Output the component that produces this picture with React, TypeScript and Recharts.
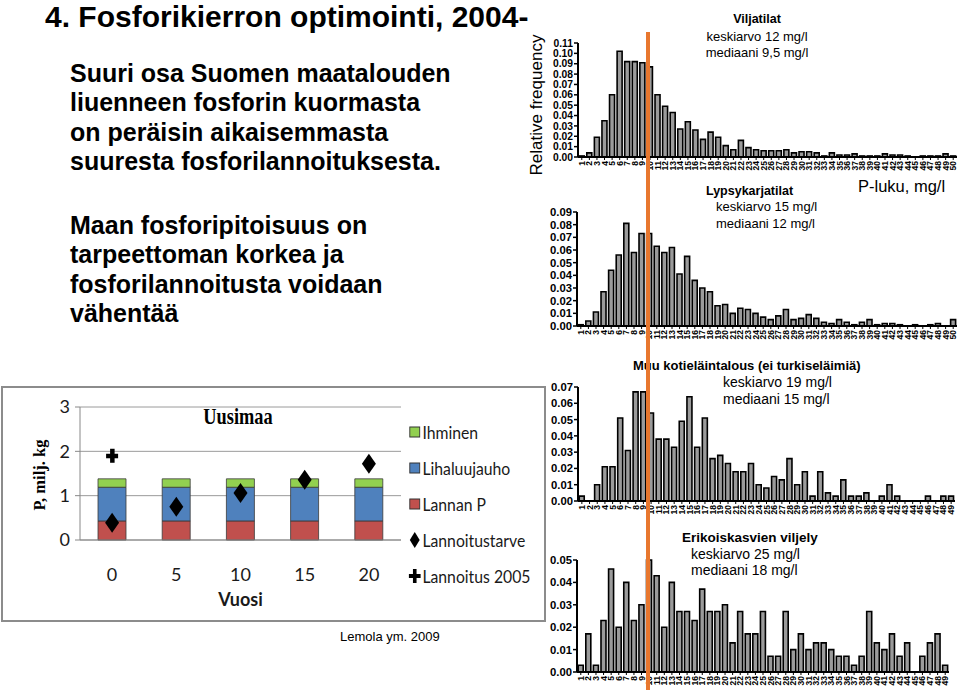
import React from "react";
import {
  BarChart,
  Bar,
  ComposedChart,
  Scatter,
  XAxis,
  YAxis,
  CartesianGrid,
  Label,
} from "recharts";

const SANS = '"Liberation Sans", Arial, sans-serif';
const NARROW = 'Lato, "Liberation Sans", sans-serif';
const SERIF = '"Liberation Serif", "Times New Roman", serif';

// ---- histogram data (P-luku bins, relative frequency) ----
const bins = [
  1, 2, 3, 4, 5, 6, 7, 8, 9, 10, 11, 12, 13, 14, 15, 16, 17, 18, 19, 20, 21, 22, 23, 24, 25,
  26, 27, 28, 29, 30, 31, 32, 33, 34, 35, 36, 37, 38, 39, 40, 41, 42, 43, 44, 45, 46, 47, 48, 49, 50,
];

const viljatilat = [
  0.001, 0.004, 0.019, 0.035, 0.06, 0.102, 0.092, 0.092, 0.091, 0.087,
  0.06, 0.049, 0.043, 0.027, 0.034, 0.026, 0.017, 0.024, 0.019, 0.011,
  0.007, 0.016, 0.009, 0.007, 0.006, 0.006, 0.006, 0.007, 0.004, 0.005,
  0.005, 0.004, 0.001, 0.004, 0.002, 0.002, 0.003, 0.001, 0.001, 0.001,
  0.003, 0.002, 0.002, 0.001, 0.0, 0.001, 0.001, 0.001, 0.003, 0.001,
];

const lypsykarjatilat = [
  0.001, 0.004, 0.011, 0.027, 0.044, 0.056, 0.081, 0.058, 0.073, 0.073,
  0.063, 0.058, 0.062, 0.041, 0.055, 0.036, 0.03, 0.027, 0.016, 0.017,
  0.01, 0.014, 0.013, 0.01, 0.007, 0.005, 0.008, 0.013, 0.005, 0.006,
  0.009, 0.006, 0.003, 0.002, 0.005, 0.003, 0.001, 0.003, 0.005, 0.001,
  0.002, 0.002, 0.001, 0.0, 0.001, 0.0, 0.001, 0.002, 0.0, 0.005,
];

const muuKotielain = [
  0.003, 0.0, 0.01, 0.021, 0.021, 0.051, 0.031, 0.067, 0.067, 0.054,
  0.038, 0.038, 0.033, 0.049, 0.064, 0.033, 0.051, 0.026, 0.028, 0.023,
  0.018, 0.018, 0.023, 0.01, 0.008, 0.015, 0.013, 0.026, 0.01, 0.018,
  0.003, 0.018, 0.005, 0.003, 0.013, 0.003, 0.003, 0.005, 0.0, 0.003,
  0.01, 0.003, 0.0, 0.0, 0.0, 0.003, 0.0, 0.003, 0.003,
];

const erikoiskasvit = [
  0.003, 0.017, 0.003, 0.023, 0.046, 0.02, 0.04, 0.023, 0.03, 0.05,
  0.043, 0.02, 0.04, 0.027, 0.027, 0.023, 0.037, 0.027, 0.027, 0.03,
  0.013, 0.027, 0.017, 0.017, 0.027, 0.007, 0.007, 0.027, 0.01, 0.017,
  0.01, 0.013, 0.013, 0.01, 0.007, 0.007, 0.003, 0.007, 0.027, 0.013,
  0.01, 0.017, 0.007, 0.013, 0.0, 0.007, 0.013, 0.017, 0.003,
];

const ticks011 = [0, 0.01, 0.02, 0.03, 0.04, 0.05, 0.06, 0.07, 0.08, 0.09, 0.1, 0.11];
const ticks009 = [0, 0.01, 0.02, 0.03, 0.04, 0.05, 0.06, 0.07, 0.08, 0.09];
const ticks007 = [0, 0.01, 0.02, 0.03, 0.04, 0.05, 0.06, 0.07];
const ticks005 = [0, 0.01, 0.02, 0.03, 0.04, 0.05];

// ---- Uusimaa scenario chart ----
const vuodet = ["0", "5", "10", "15", "20"];
const lannanP = [0.43, 0.43, 0.43, 0.43, 0.43];
const lihaluujauho = [0.76, 0.76, 0.76, 0.76, 0.76];
const ihminen = [0.19, 0.19, 0.19, 0.19, 0.19];
const lannoitustarve = [0.39, 0.75, 1.06, 1.36, 1.72];
const lannoitus2005 = [1.9, null, null, null, null];
const uusimaaTicks = [0, 1, 2, 3];

const uusimaaData = vuodet.map((v, i) => ({
  vuosi: v,
  lannanP: lannanP[i],
  lihaluujauho: lihaluujauho[i],
  ihminen: ihminen[i],
  tarve: lannoitustarve[i],
  lannoitus: lannoitus2005[i],
}));

const PANEL_X = 549;

function BinTick(props: any) {
  const { x, y, payload } = props;
  return (
    <text
      x={x}
      y={y}
      transform={`rotate(-90 ${x} ${y})`}
      textAnchor="end"
      dominantBaseline="central"
      fontSize={8.5}
      fontWeight={700}
      fontFamily={SANS}
      fill="#000"
    >
      {payload.value}
    </text>
  );
}

interface HistProps {
  values: number[];
  ticks: number[];
  axisX: number;
  plotTop: number;
  plotRight: number;
  plotBottom: number;
  fontSize: number;
}

function Histogram({ values, ticks, axisX, plotTop, plotRight, plotBottom, fontSize }: HistProps) {
  const yw = 32;
  const mt = 5;
  const left = axisX - yw;
  const width = plotRight - left + 3;
  const height = plotBottom - plotTop + mt + 26;
  const data = values.map((v, i) => ({ bin: bins[i], value: v }));
  return (
    <div style={{ position: "absolute", left: left - PANEL_X, top: plotTop - mt }}>
      <BarChart
        width={width}
        height={height}
        data={data}
        margin={{ top: mt, right: 3, left: 0, bottom: 0 }}
        barCategoryGap="16%"
      >
        <XAxis
          dataKey="bin"
          interval={0}
          height={26}
          tickSize={3}
          tickMargin={1}
          axisLine={{ stroke: "#000", strokeWidth: 2 }}
          tickLine={{ stroke: "#000", strokeWidth: 1 }}
          tick={<BinTick />}
        />
        <YAxis
          width={yw}
          domain={[0, ticks[ticks.length - 1]]}
          ticks={ticks}
          interval={0}
          tickFormatter={(v: number) => v.toFixed(2)}
          tick={{ fontSize, fontWeight: 700, fill: "#000", fontFamily: SANS }}
          tickSize={4}
          tickMargin={1}
          axisLine={{ stroke: "#000", strokeWidth: 2 }}
          tickLine={{ stroke: "#000", strokeWidth: 1.5 }}
        />
        <Bar dataKey="value" fill="#9b9b9b" stroke="#000" strokeWidth={1.6} isAnimationActive={false} />
      </BarChart>
    </div>
  );
}

function Diamond(props: any) {
  const { cx, cy, payload } = props;
  if (payload == null || payload.tarve == null) return <g />;
  return <polygon points={`${cx},${cy - 10} ${cx + 7},${cy} ${cx},${cy + 10} ${cx - 7},${cy}`} fill="#000" />;
}

function Plus(props: any) {
  const { cx, cy, payload } = props;
  if (payload == null || payload.lannoitus == null || cy == null || isNaN(cy)) return <g />;
  return (
    <g fill="#000">
      <rect x={cx - 6} y={cy - 2} width={12} height={4.5} />
      <rect x={cx - 2} y={cy - 7} width={4.5} height={14} />
    </g>
  );
}

const legendItems = [
  { label: "Ihminen", kind: "box", color: "#92D050" },
  { label: "Lihaluujauho", kind: "box", color: "#4F81BD" },
  { label: "Lannan P", kind: "box", color: "#C0504D" },
  { label: "Lannoitustarve", kind: "diamond", color: "#000" },
  { label: "Lannoitus 2005", kind: "plus", color: "#000" },
];

function UusimaaLegend() {
  return (
    <div
      style={{
        position: "absolute",
        left: 405,
        top: 26,
        fontFamily: NARROW,
        fontSize: 17.5,
        color: "#1a1a1a",
        whiteSpace: "nowrap",
        transform: "scaleX(0.9)",
        transformOrigin: "left top",
      }}
    >
      {legendItems.map((it) => (
        <div key={it.label} style={{ display: "flex", alignItems: "center", height: 36 }}>
          <svg width={15} height={20} style={{ marginRight: 1, flexShrink: 0 }}>
            {it.kind === "box" && <rect x={2} y={5} width={11} height={10} fill={it.color} stroke="#333" strokeWidth={1} />}
            {it.kind === "diamond" && <polygon points="7.5,2 13,10 7.5,18 2,10" fill="#000" />}
            {it.kind === "plus" && (
              <g fill="#000">
                <rect x={1} y={8} width={13} height={4} />
                <rect x={5.5} y={3} width={4} height={14} />
              </g>
            )}
          </svg>
          <span>{it.label}</span>
        </div>
      ))}
    </div>
  );
}

function textAt(
  text: string,
  left: number,
  cy: number,
  size: number,
  bold = false,
  extra: React.CSSProperties = {}
) {
  return (
    <div
      style={{
        position: "absolute",
        left,
        top: cy - size * 0.6,
        lineHeight: `${size * 1.2}px`,
        fontSize: size,
        fontWeight: bold ? 700 : 400,
        fontFamily: SANS,
        whiteSpace: "nowrap",
        color: "#000",
        ...extra,
      }}
    >
      {text}
    </div>
  );
}

export default function App() {
  return (
    <div
      style={{
        position: "absolute",
        left: 0,
        top: 0,
        width: 960,
        height: 690,
        background: "#fff",
        overflow: "hidden",
        fontFamily: SANS,
      }}
    >
      {/* slide title and text */}
      <div style={{ position: "absolute", left: 45, top: 1, fontSize: 30, lineHeight: "31px", fontWeight: 700, whiteSpace: "nowrap" }}>
        4. Fosforikierron optimointi, 2004-
      </div>
      <div style={{ position: "absolute", left: 70, top: 59, fontSize: 25, lineHeight: "29.4px", fontWeight: 700 }}>
        Suuri osa Suomen maatalouden
        <br />
        liuenneen fosforin kuormasta
        <br />
        on peräisin aikaisemmasta
        <br />
        suuresta fosforilannoituksesta.
      </div>
      <div style={{ position: "absolute", left: 70, top: 211, fontSize: 25, lineHeight: "29.4px", fontWeight: 700 }}>
        Maan fosforipitoisuus on
        <br />
        tarpeettoman korkea ja
        <br />
        fosforilannoitusta voidaan
        <br />
        vähentää
      </div>

      {/* right panel: histograms */}
      <div
        style={{
          position: "absolute",
          left: 537 - 80,
          top: 105 - 11,
          width: 160,
          textAlign: "center",
          fontSize: 17,
          lineHeight: "22px",
          transform: "rotate(-90deg)",
          whiteSpace: "nowrap",
        }}
      >
        Relative frequency
      </div>
      <div style={{ position: "absolute", left: PANEL_X, top: 0, width: 960 - PANEL_X, height: 690 }}>
        <Histogram values={viljatilat} ticks={ticks011} axisX={578} plotTop={43} plotRight={957} plotBottom={157} fontSize={10.3} />
        <Histogram values={lypsykarjatilat} ticks={ticks009} axisX={577} plotTop={212} plotRight={957} plotBottom={326} fontSize={11.3} />
        <Histogram values={muuKotielain} ticks={ticks007} axisX={578} plotTop={387} plotRight={955} plotBottom={501} fontSize={11.3} />
        <Histogram values={erikoiskasvit} ticks={ticks005} axisX={577} plotTop={560} plotRight={949} plotBottom={672} fontSize={11.3} />
      </div>

      {textAt("Viljatilat", 757, 19, 12.5, true, { transform: "translateX(-50%)" })}
      {textAt("keskiarvo 12 mg/l", 757, 37, 13, false, { transform: "translateX(-50%)" })}
      {textAt("mediaani 9,5 mg/l", 757, 53, 13, false, { transform: "translateX(-50%)" })}

      {textAt("P-luku, mg/l", 858, 187, 16.5)}
      {textAt("Lypsykarjatilat", 706, 191, 12.5, true)}
      {textAt("keskiarvo 15 mg/l", 716, 207, 13)}
      {textAt("mediaani 12 mg/l", 716, 224, 13)}

      {textAt("Muu kotieläintalous (ei turkiseläimiä)", 633, 366, 13, true)}
      {textAt("keskiarvo 19 mg/l", 723, 382, 14)}
      {textAt("mediaani 15 mg/l", 723, 399, 14)}

      {textAt("Erikoiskasvien viljely", 682, 538, 13.5, true)}
      {textAt("keskiarvo 25 mg/l", 691, 554, 14)}
      {textAt("mediaani 18 mg/l", 691, 570, 14)}

      {/* median marker */}
      <div style={{ position: "absolute", left: 646, top: 32, width: 4, height: 660, background: "#E8772E" }} />

      {/* Uusimaa chart */}
      <div
        style={{
          position: "absolute",
          left: 1,
          top: 386,
          width: 541,
          height: 232,
          border: "2px solid #8c8c8c",
          background: "#fff",
        }}
      >
        <ComposedChart
          width={541}
          height={222}
          data={uusimaaData}
          margin={{ top: 19, right: 143, left: 0, bottom: 0 }}
        >
          <CartesianGrid vertical={false} stroke="#9a9a9a" />
          <XAxis
            xAxisId="b"
            type="number"
            domain={[0, 5]}
            ticks={[0, 1, 2, 3, 4, 5]}
            height={0}
            tick={false}
            axisLine={false}
            tickSize={6}
            tickLine={{ stroke: "#888" }}
          />
          <XAxis
            xAxisId="cat"
            dataKey="vuosi"
            height={70}
            tickSize={0}
            tickMargin={28}
            tickLine={false}
            axisLine={{ stroke: "#888" }}
            tick={{ fontSize: 18, fill: "#1a1a1a", fontFamily: NARROW }}
          >
            <Label
              value="Vuosi"
              position="insideBottom"
              offset={4}
              style={{ fontSize: 18, fill: "#1a1a1a", fontFamily: NARROW, fontWeight: 700 }}
            />
          </XAxis>
          <YAxis
            width={77}
            domain={[0, 3]}
            ticks={uusimaaTicks}
            tickSize={5}
            tickMargin={5}
            axisLine={{ stroke: "#888" }}
            tickLine={{ stroke: "#888" }}
            tick={{ fontSize: 18, fill: "#1a1a1a", fontFamily: NARROW }}
          />
          <Bar xAxisId="cat" dataKey="lannanP" stackId="p" barSize={28} fill="#C0504D" stroke="#3a3a3a" strokeWidth={0.8} isAnimationActive={false} />
          <Bar xAxisId="cat" dataKey="lihaluujauho" stackId="p" barSize={28} fill="#4F81BD" stroke="#3a3a3a" strokeWidth={0.8} isAnimationActive={false} />
          <Bar xAxisId="cat" dataKey="ihminen" stackId="p" barSize={28} fill="#92D050" stroke="#3a3a3a" strokeWidth={0.8} isAnimationActive={false} />
          <Scatter xAxisId="cat" dataKey="tarve" shape={<Diamond />} isAnimationActive={false} />
          <Scatter xAxisId="cat" dataKey="lannoitus" shape={<Plus />} isAnimationActive={false} />
        </ComposedChart>
        <UusimaaLegend />
        <div
          style={{
            position: "absolute",
            left: 235,
            top: 27.5,
            transform: "translate(-50%, -50%) scaleX(0.78)",
            fontFamily: SERIF,
            fontWeight: 700,
            fontSize: 23.5,
            whiteSpace: "nowrap",
          }}
        >
          Uusimaa
        </div>
        <div
          style={{
            position: "absolute",
            left: 37,
            top: 87,
            transform: "translate(-50%, -50%) rotate(-90deg)",
            fontFamily: SERIF,
            fontWeight: 700,
            fontSize: 16.5,
            whiteSpace: "nowrap",
          }}
        >
          P, milj. kg
        </div>
      </div>
      {textAt("Lemola ym. 2009", 340, 637, 13)}
    </div>
  );
}
